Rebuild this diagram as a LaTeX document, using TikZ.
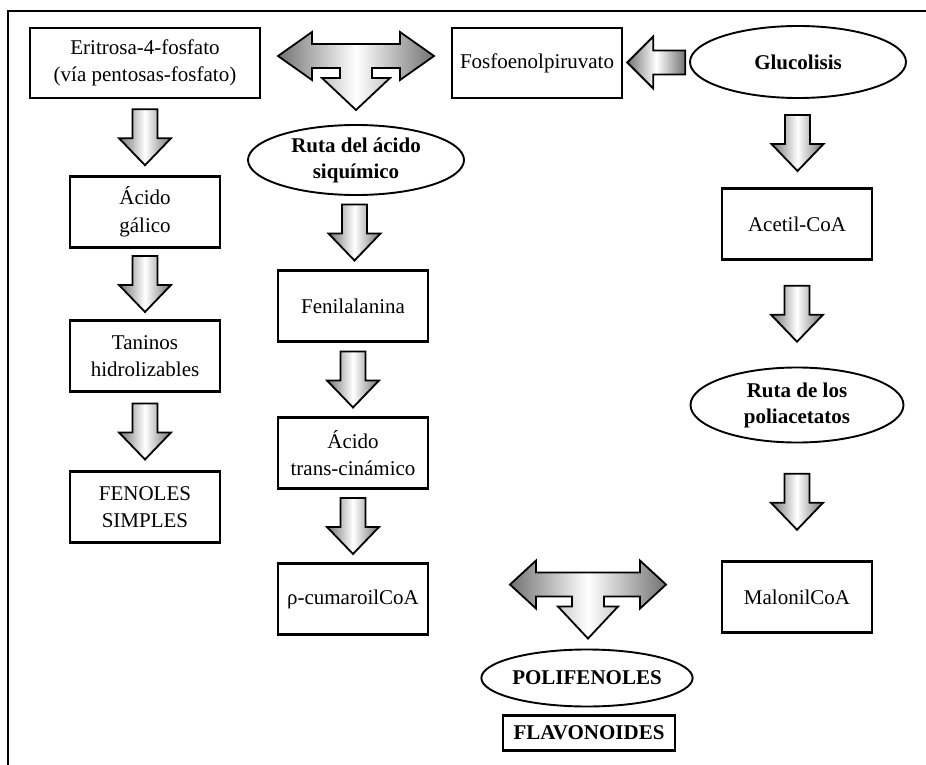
\documentclass[tikz,border=0pt]{standalone}
\usepackage{fontspec}
\setmainfont{Liberation Serif}
\usetikzlibrary{shapes,arrows}
\usetikzlibrary{calc}

\tikzset{
	caja/.style={draw, line width=2.8pt, minimum width=150pt, minimum height=71pt, align=center, inner sep=2pt, font=\fontsize{21}{27.5}\selectfont},
	ruta/.style={draw, ellipse, line width=1.9pt, align=center, inner sep=0pt, font=\fontsize{21}{26}\selectfont\bfseries},
	flecha/.style={draw=black, line width=1.8pt, line join=miter, left color=black!55, right color=black!55, middle color=white},
}

% block arrow down, centred between two anchors
\newcommand{\flechabaja}[2]{%
	\begin{scope}[shift={($(#1)!0.5!(#2)$)}]
		\draw[flecha] (-12.5,-28) -- (12.5,-28) -- (12.5,1) -- (26,1) -- (0,28) -- (-26,1) -- (-12.5,1) -- cycle;
	\end{scope}}
% block arrow to the left
\newcommand{\flechaizq}[2]{%
	\begin{scope}[shift={($(#1)!0.5!(#2)$)}]
		\draw[flecha] (29,-12) -- (29,12) -- (-3,12) -- (-3,26) -- (-29,0) -- (-3,-26) -- (-3,-12) -- cycle;
	\end{scope}}
% T arrow: hub, head base, half width of lower head
\newcommand{\flechat}[3]{%
	\begin{scope}[shift={(#1)}]
		\draw[flecha] (-78,0) -- (-#2,-24) -- (-#2,-12) -- (#2,-12) -- (#2,-24) -- (78,0)
		-- (#2,24) -- (#2,12) -- (16,12) -- (16,22) -- (#3,22) -- (0,54) -- (-#3,22)
		-- (-16,22) -- (-16,12) -- (-#2,12) -- (-#2,24) -- cycle;
	\end{scope}}

\begin{document}
\begin{tikzpicture}[x=1pt, y=-1pt]
	\useasboundingbox (0,0) rectangle (926,765);
	
	% frame
	\draw[line width=1.4pt] (926,11) -- (8,11) -- (8,765);
	
	% top row
	\node[caja, minimum width=230pt, minimum height=70pt] (eri) at (145,63) {Eritrosa-4-fosfato\\(vía pentosas-fosfato)};
	\node[caja, minimum width=170pt, minimum height=70pt] (fosfo) at (537,63) {Fosfoenolpiruvato};
	\node[ruta, minimum width=216pt, minimum height=72pt] (glu) at (798,62) {Glucolisis};
	
	% left column
	\node[caja] (galico) at (145,212) {Ácido\\gálico};
	\node[caja] (taninos) at (145,356) {Taninos\\hidrolizables};
	\node[caja] (fenoles) at (145,507) {FENOLES\\SIMPLES};
	
	% middle column
	\node[ruta, minimum width=216pt, minimum height=70pt] (siq) at (356,160) {Ruta del ácido\\siquímico};
	\node[caja] (fenil) at (353,306) {Fenilalanina};
	\node[caja] (trans) at (353,453) {Ácido\\trans-cinámico};
	\node[caja] (cumar) at (353,599) {ρ-cumaroilCoA};
	
	% right column
	\node[caja] (acetil) at (797,224) {Acetil-CoA};
	\node[ruta, minimum width=213pt, minimum height=75pt] (poli) at (797,405) {Ruta de los\\poliacetatos};
	\node[caja] (malonil) at (797,597) {MalonilCoA};
	
	% bottom
	\node[ruta, minimum width=170pt, minimum height=57pt] (polif) at (587,678) {POLIFENOLES};
	\node[caja, minimum width=172pt, minimum height=35pt, font=\fontsize{21}{27}\selectfont\bfseries] (flavo) at (589,733) {FLAVONOIDES};
	
	% arrows
	\flechabaja{eri.south}{galico.north}
	\flechabaja{galico.south}{taninos.north}
	\flechabaja{taninos.south}{fenoles.north}
	\flechabaja{siq.south}{fenil.north}
	\flechabaja{fenil.south}{trans.north}
	\flechabaja{trans.south}{cumar.north}
	\flechabaja{glu.south}{acetil.north}
	\flechabaja{acetil.south}{poli.north}
	\flechabaja{poli.south}{malonil.north}
	\flechaizq{glu.west}{fosfo.east}
	
	\coordinate (hubsup) at ($(eri.east)!0.5!(fosfo.west)+(0,-7)$);
	\coordinate (hubinf) at ($(polif.north)+(1,-64)$);
	\flechat{hubsup}{44}{34}
	\flechat{hubinf}{52}{30}
\end{tikzpicture}
\end{document}
